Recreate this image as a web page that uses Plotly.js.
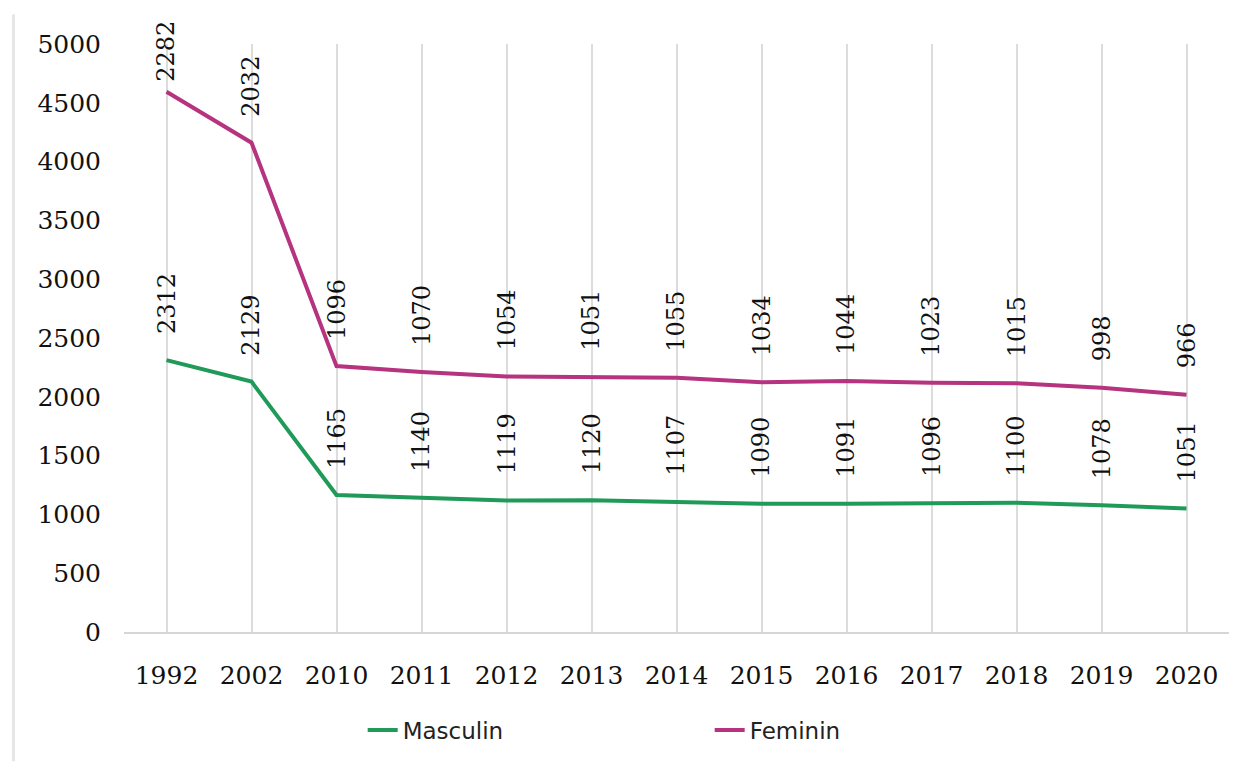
<!DOCTYPE html>
<html>
<head>
<meta charset="utf-8">
<script src="https://cdn.plot.ly/plotly-3.0.1.min.js"></script>
<style>html,body{margin:0;padding:0;background:#fff;}#chart{width:1249px;height:764px;}</style>
</head>
<body>
<div id="chart"></div>
<script>
const years = ['1992','2002','2010','2011','2012','2013','2014','2015','2016','2017','2018','2019','2020'];
const masculin = [2312,2129,1165,1140,1119,1120,1107,1090,1091,1096,1100,1078,1051];
const feminin = [2282,2032,1096,1070,1054,1051,1055,1034,1044,1023,1015,998,966];
const yTicks = [0,500,1000,1500,2000,2500,3000,3500,4000,4500,5000];

const greenC = '#1f9a58';
const pinkC = '#b5337f';
const serif = 'DejaVu Serif';

const traces = [
  {x: years, y: masculin, name: 'Masculin', type: 'scatter', mode: 'lines', stackgroup: 'one', fill: 'none',
   line: {color: greenC, width: 4}, hoverinfo: 'skip'},
  {x: years, y: feminin, name: 'Feminin', type: 'scatter', mode: 'lines', stackgroup: 'one', fill: 'none',
   line: {color: pinkC, width: 4}, hoverinfo: 'skip'}
];

const annotations = [];
for (let i = 0; i < years.length; i++) {
  const total = masculin[i] + feminin[i];
  annotations.push({xref: 'x', yref: 'y', x: i, y: masculin[i], text: String(masculin[i]), showarrow: false, textangle: -90,
    yanchor: 'bottom', xanchor: 'center', yshift: 24, font: {family: serif, size: 24, color: '#111111'}});
  annotations.push({xref: 'x', yref: 'y', x: i, y: total, text: String(feminin[i]), showarrow: false, textangle: -90,
    yanchor: 'bottom', xanchor: 'center', yshift: total > 4400 ? 8 : 24, font: {family: serif, size: 24, color: '#111111'}});
}

const layout = {
  width: 1249, height: 764,
  margin: {l: 124, r: 20, t: 44, b: 132},
  paper_bgcolor: '#ffffff', plot_bgcolor: '#ffffff',
  showlegend: true,
  legend: {orientation: 'h', x: 0.216, xanchor: 'left', y: -0.13, yanchor: 'top',
    entrywidth: 302, entrywidthmode: 'pixels', traceorder: 'normal',
    font: {family: 'DejaVu Sans', size: 23, color: '#222222'}},
  xaxis: {type: 'category', range: [-0.5, 12.5], showgrid: true, gridcolor: '#dcdcdc', gridwidth: 2,
    showline: true, linecolor: '#d6d6d6', linewidth: 2, ticks: '', zeroline: false,
    ticklabelstandoff: 20, tickfont: {family: serif, size: 25, color: '#111111'}, fixedrange: true},
  yaxis: {range: [0, 5000], tickvals: yTicks, ticktext: yTicks.map(String), showgrid: false, zeroline: false,
    showline: false, ticks: '', ticklabelstandoff: 22, tickfont: {family: serif, size: 25, color: '#111111'}, fixedrange: true},
  annotations: annotations,
  shapes: [
    {type: 'line', xref: 'paper', yref: 'paper', x0: -0.1, x1: -0.1, y0: -0.22, y1: 1.05,
     line: {color: '#e6e6e6', width: 3}}
  ]
};

Plotly.newPlot('chart', traces, layout, {displayModeBar: false, staticPlot: true});
</script>
</body>
</html>
